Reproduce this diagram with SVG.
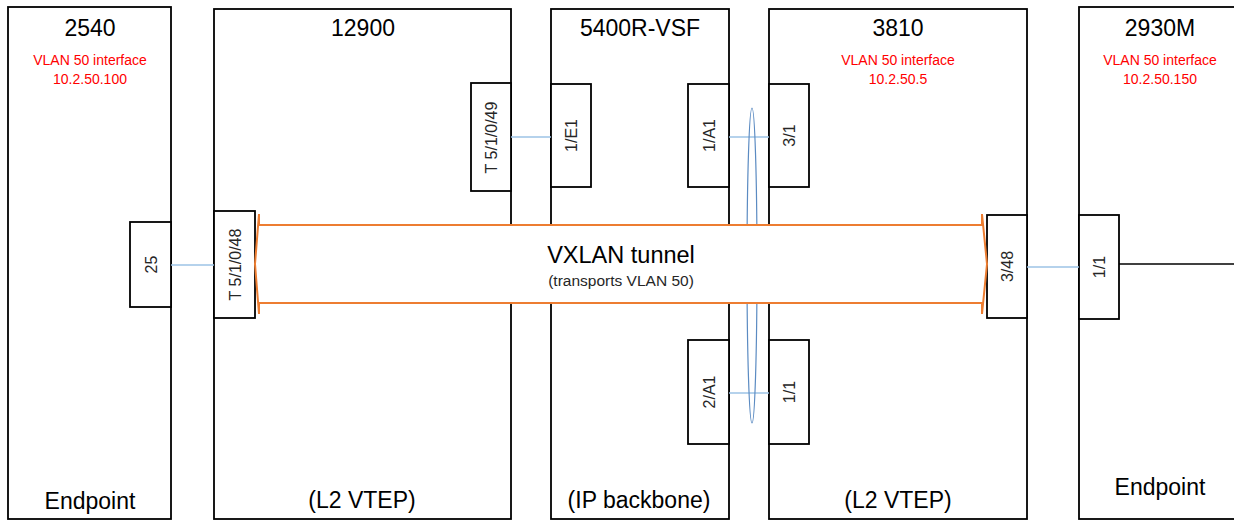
<svg xmlns="http://www.w3.org/2000/svg" width="1234" height="521" viewBox="0 0 1234 521">
<style>
.box{fill:#fff;stroke:#000;stroke-width:1.8}
.port{fill:#fff;stroke:#000;stroke-width:1.8}
.title{font-family:"Liberation Sans",Arial,sans-serif;font-size:23px;fill:#000;text-anchor:middle}
.role{font-family:"Liberation Sans",Arial,sans-serif;font-size:23px;fill:#000;text-anchor:middle}
.red{font-family:"Liberation Sans",Arial,sans-serif;font-size:14px;fill:#ff0000;text-anchor:middle}
.plabel{font-family:"Liberation Sans",Arial,sans-serif;font-size:16px;fill:#262626;text-anchor:middle}
.link{stroke:#9dc3e6;stroke-width:1.4;fill:none}
.tunnel{fill:#fff;stroke:#ed7d31;stroke-width:2}
</style>
<rect width="1234" height="521" fill="#fff"/>
<g id="node-2540">
<rect class="box" x="8" y="7" width="163" height="512"/>
<text class="title" x="90" y="36">2540</text>
<text class="red" x="90" y="65">VLAN 50 interface</text>
<text class="red" x="90" y="84">10.2.50.100</text>
<text class="role" x="90" y="509">Endpoint</text>
<rect class="port" x="130" y="222" width="41" height="85"/>
<text class="plabel" transform="translate(151,264.5) rotate(-90)" dy="0.35em">25</text>
</g>
<g id="node-12900">
<rect class="box" x="214" y="9" width="297" height="510"/>
<text class="title" x="363" y="36">12900</text>
<text class="role" x="362" y="508">(L2 VTEP)</text>
<rect class="port" x="214" y="211" width="41" height="107"/>
<text class="plabel" transform="translate(235,264.5) rotate(-90)" dy="0.35em">T 5/1/0/48</text>
<rect class="port" x="471" y="83" width="40" height="108"/>
<text class="plabel" transform="translate(491.5,137.5) rotate(-90)" dy="0.35em">T 5/1/0/49</text>
</g>
<g id="node-5400R-VSF">
<rect class="box" x="551" y="9" width="178" height="510"/>
<text class="title" x="640" y="36">5400R-VSF</text>
<text class="role" x="639" y="508">(IP backbone)</text>
<rect class="port" x="551" y="84" width="40" height="103"/>
<text class="plabel" transform="translate(571.5,135.5) rotate(-90)" dy="0.35em">1/E1</text>
<rect class="port" x="688" y="84" width="41" height="103"/>
<text class="plabel" transform="translate(709,135.5) rotate(-90)" dy="0.35em">1/A1</text>
<rect class="port" x="688" y="340" width="41" height="104"/>
<text class="plabel" transform="translate(709,392) rotate(-90)" dy="0.35em">2/A1</text>
</g>
<g id="node-3810">
<rect class="box" x="769" y="9" width="258" height="510"/>
<text class="title" x="898" y="36">3810</text>
<text class="red" x="898" y="65">VLAN 50 interface</text>
<text class="red" x="898" y="84">10.2.50.5</text>
<text class="role" x="898" y="508">(L2 VTEP)</text>
<rect class="port" x="769" y="84" width="40" height="103"/>
<text class="plabel" transform="translate(789.5,135.5) rotate(-90)" dy="0.35em">3/1</text>
<rect class="port" x="769" y="340" width="40" height="104"/>
<text class="plabel" transform="translate(789.5,392) rotate(-90)" dy="0.35em">1/1</text>
<rect class="port" x="987" y="215" width="40" height="103"/>
<text class="plabel" transform="translate(1007.5,266.5) rotate(-90)" dy="0.35em">3/48</text>
</g>
<g id="node-2930M">
<rect class="box" x="1079" y="7" width="180" height="512"/>
<text class="title" x="1160" y="36">2930M</text>
<text class="red" x="1160" y="65">VLAN 50 interface</text>
<text class="red" x="1160" y="84">10.2.50.150</text>
<text class="role" x="1160" y="495">Endpoint</text>
<rect class="port" x="1079" y="215" width="40" height="104"/>
<text class="plabel" transform="translate(1099.5,267) rotate(-90)" dy="0.35em">1/1</text>
</g>
<g id="connectors">
<line class="link" x1="171" y1="265" x2="214" y2="265"/>
<line class="link" x1="511" y1="137" x2="551" y2="137"/>
<line class="link" x1="729" y1="137" x2="769" y2="137"/>
<line class="link" x1="729" y1="393" x2="769" y2="393"/>
<line class="link" x1="1027" y1="267" x2="1079" y2="267"/>
<line x1="1119" y1="264" x2="1234" y2="264" stroke="#000" stroke-width="1.6"/>
<ellipse cx="752" cy="265.5" rx="5" ry="157.5" fill="none" stroke="#5b8bc2" stroke-width="1.2"/>
</g>
<g id="vxlan-tunnel">
<polygon class="tunnel" points="255,264 259,214 259,225 982,225 982,214 987,264 982,314 982,303 259,303 259,314"/>
<text x="621" y="263" font-family="Liberation Sans, Arial, sans-serif" font-size="23.5" text-anchor="middle" fill="#000">VXLAN tunnel</text>
<text x="621" y="286" font-family="Liberation Sans, Arial, sans-serif" font-size="15.5" text-anchor="middle" fill="#262626">(transports VLAN 50)</text>
</g>
</svg>
